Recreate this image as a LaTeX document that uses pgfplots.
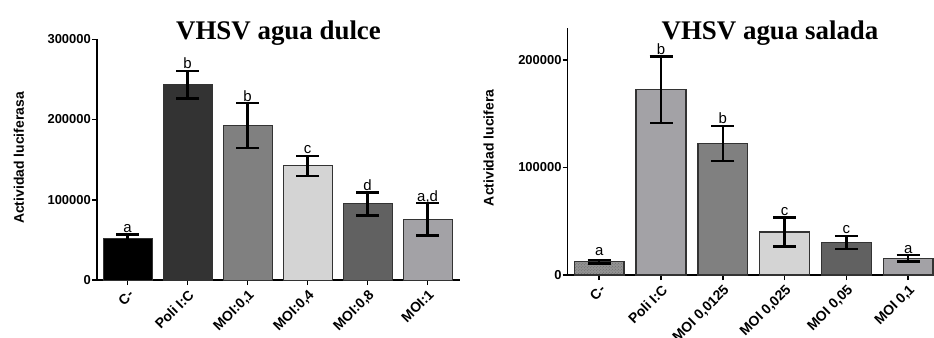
\documentclass[border=0pt]{standalone}
\usepackage{pgfplots}
\pgfplotsset{compat=1.18}
\usepackage{fontspec}
\setmainfont{Liberation Sans}
\newfontfamily\titlefont{Liberation Serif}
\usetikzlibrary{patterns}

\definecolor{edge}{HTML}{333333}
\definecolor{c1}{HTML}{000000}
\definecolor{c2}{HTML}{333333}
\definecolor{c3}{HTML}{808080}
\definecolor{c4}{HTML}{D4D4D4}
\definecolor{c5}{HTML}{616161}
\definecolor{c6}{HTML}{A3A2A6}

\pgfplotsset{mybars/.style={
  scale only axis, axis lines=left, axis line style={-, line width=1.5bp, black},
  ymin=0, xtick={0,...,5}, tick align=outside, major tick length=5bp,
  scaled y ticks=false, /pgf/number format/assume math mode=true,
  every tick/.style={black, line width=1.5bp},
  xticklabel style={rotate=45, anchor=north east, font=\bfseries\fontsize{14}{14}\selectfont, inner sep=2.5bp},
  yticklabel style={font=\bfseries\fontsize{13}{13}\selectfont, inner sep=1bp},
  ylabel style={font=\bfseries\fontsize{14}{14}\selectfont},
  ybar, bar width=49bp, bar shift=0pt,
  every axis plot/.append style={draw=edge, line width=1bp},
  error bars/error bar style={line width=2.5bp, black},
  error bars/error mark options={line width=2.5bp, black, mark size=11.5bp, rotate=90},
  clip=false,
},
lbl/.style={draw=none, fill=none, nodes near coords, point meta=explicit symbolic,
  every node near coord/.append style={anchor=base, yshift=2bp, inner sep=0pt, font=\fontsize{15}{15}\selectfont, black}},
eb/.style={error bars/.cd, y dir=both, y explicit}
}

\begin{document}
\begin{tikzpicture}
% Left chart
\begin{axis}[mybars, at={(97bp,58bp)}, anchor=south west,
  width=363bp, height=240.7bp, xmin=-0.51, xmax=5.54, ymax=300000,
  ytick={0,100000,200000,300000}, yticklabels={0,100000,200000,300000},
  xticklabels={C-,Poli I:C,{MOI:0,1},{MOI:0,4},{MOI:0,8},MOI:1},
  ylabel={Actividad luciferasa},
  ylabel style={at={(axis description cs:-0.215,0.507)}, anchor=center}]
\addplot[fill=c1, eb] coordinates {(0,51500) +- (0,5500)};
\addplot[fill=c2, eb] coordinates {(1,243500) +- (0,17000)};
\addplot[fill=c3, eb] coordinates {(2,192400) +- (0,28000)};
\addplot[fill=c4, eb] coordinates {(3,142100) +- (0,12500)};
\addplot[fill=c5, eb] coordinates {(4,94800) +- (0,14300)};
\addplot[fill=c6, eb] coordinates {(5,75700) +- (0,20000)};
\addplot[lbl] table[meta=l] {
x y l
0 57000 a
1 260500 b
2 220400 b
3 154600 c
4 109100 d
5 95700 a,d
};
\end{axis}
% Right chart
\begin{axis}[mybars, at={(567.7bp,63bp)}, anchor=south west,
  width=366.3bp, height=247.3bp, xmin=-0.51, xmax=5.417, ymax=230000,
  ytick={0,100000,200000}, yticklabels={0,100000,200000},
  xticklabels={C-,Poli I:C,{MOI 0,0125},{MOI 0,025},{MOI 0,05},{MOI 0,1}},
  bar width=49.7bp,
  every axis plot/.append style={line width=1.4bp},
  ylabel={Actividad lucifera},
  ylabel style={at={(axis description cs:-0.216,0.514)}, anchor=center}]
\addplot[fill=c3!85, postaction={pattern=crosshatch dots, pattern color=black!60}, eb] coordinates {(0,12400) +- (0,1500)};
\addplot[fill=c6, eb] coordinates {(1,172400) +- (0,31000)};
\addplot[fill=c3, eb] coordinates {(2,122500) +- (0,16300)};
\addplot[fill=c4, eb] coordinates {(3,40000) +- (0,13400)};
\addplot[fill=c5, eb] coordinates {(4,30400) +- (0,6000)};
\addplot[fill=c6, eb] coordinates {(5,15500) +- (0,3100)};
\addplot[lbl] table[meta=l] {
x y l
0 16000 a
1 203400 b
2 138800 b
3 53400 c
4 36400 c
5 18600 a
};
\end{axis}
\node[font=\titlefont\bfseries\fontsize{27}{27}\selectfont, anchor=base] at (278.5bp,298.7bp) {VHSV agua dulce};
\node[font=\titlefont\bfseries\fontsize{27}{27}\selectfont, anchor=base] at (770bp,298.7bp) {VHSV agua salada};
\pgfresetboundingbox
\path[use as bounding box] (0,0) rectangle (934bp,338bp);
\end{tikzpicture}
\end{document}
